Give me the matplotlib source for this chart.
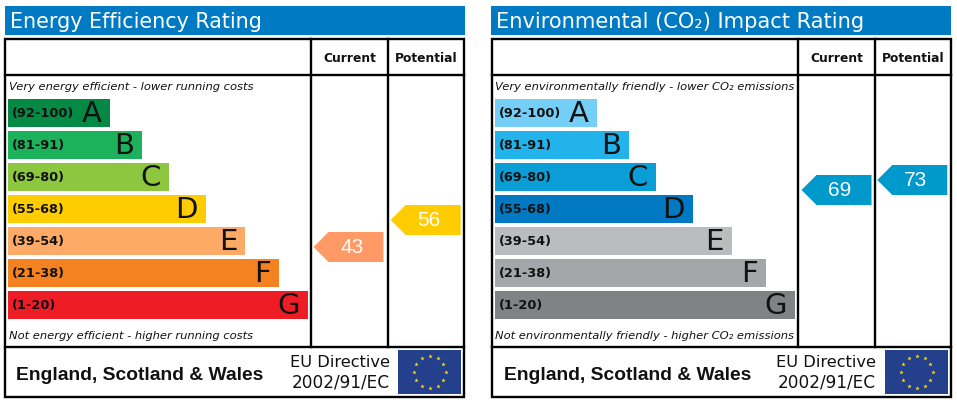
import numpy as np
import matplotlib
matplotlib.use("Agg")
import matplotlib.pyplot as plt
from matplotlib.patches import Rectangle, Polygon

# ---------- data ----------
band_ranges = ["(92-100)", "(81-91)", "(69-80)", "(55-68)", "(39-54)", "(21-38)", "(1-20)"]
band_letters = ["A", "B", "C", "D", "E", "F", "G"]
energy_band_lengths = [102, 134, 161, 198, 237, 271, 300]
co2_band_lengths = [102, 134, 161, 198, 237, 271, 300]
energy_colors = ["#058a45", "#1cb25b", "#8dc63f", "#ffcc00", "#fcaa65", "#f58220", "#ee1c25"]
co2_colors = ["#75cef5", "#22b3ea", "#0a9dd6", "#0079c2", "#bbbcbe", "#a5a6a9", "#818286"]

energy_title = "Energy Efficiency Rating"
co2_title = "Environmental (CO₂) Impact Rating"
energy_top = "Very energy efficient - lower running costs"
energy_bottom = "Not energy efficient - higher running costs"
co2_top = "Very environmentally friendly - lower CO₂ emissions"
co2_bottom = "Not environmentally friendly - higher CO₂ emissions"

energy_current, energy_potential = 43, 56
co2_current, co2_potential = 69, 73
energy_arrow_levels = [247, 220]
co2_arrow_levels = [190, 180]
energy_arrow_colors = ["#ff9966", "#ffcc00"]
co2_arrow_colors = ["#0099cc", "#0099cc"]

W, H = 957, 404
fig = plt.figure(figsize=(W / 100, H / 100), dpi=100, facecolor="white")
ax = fig.add_axes([0, 0, 1, 1])
ax.set_xlim(0, W)
ax.set_ylim(H, 0)
ax.axis("off")

SANS = "DejaVu Sans"
ARIAL = "Liberation Sans"


def arrow(x_right, yc, color, value):
    w, h, tip = 70, 30, 15
    pts = [(x_right, yc - h / 2), (x_right - w + tip, yc - h / 2), (x_right - w, yc),
           (x_right - w + tip, yc + h / 2), (x_right, yc + h / 2)]
    ax.add_patch(Polygon(pts, closed=True, fc=color, ec="none", zorder=3))
    ax.text(x_right - 31.5, yc + 0.5, str(value), color="white", family=ARIAL, fontsize=15,
            ha="center", va="center", zorder=4)


def flag(x0, y0, w=63, h=44):
    ax.add_patch(Rectangle((x0, y0), w, h, fc="#243f8c", ec="none", zorder=3))
    theta = np.deg2rad(np.arange(0, 360, 30))
    ax.scatter(x0 + w / 2 + 16 * np.cos(theta), y0 + h / 2 + 16 * np.sin(theta), marker="*",
               s=11, c="#ffe000", linewidths=0, zorder=4)


def panel(x0, frame, title, title_size, top, bottom, lengths, colors, values, levels, arrow_colors,
          arrow_right, foot_x, flag_x):
    left, right, c1, c2 = frame
    ax.add_patch(Rectangle((x0, 6), 460, 29, fc="#007ac2", ec="none"))
    ax.text(x0 + 5, 21.5, title, color="white", family=SANS, fontsize=title_size, va="center", ha="left")

    lw = 1.7
    ax.add_patch(Rectangle((left, 39), right - left, 357.5, fc="none", ec="black", lw=lw, zorder=5))
    ax.plot([left, right], [75, 75], color="black", lw=lw, zorder=5)
    ax.plot([left, right], [346.7, 346.7], color="black", lw=lw, zorder=5)
    for cx in (c1, c2):
        ax.plot([cx, cx], [39, 346.7], color="black", lw=lw, zorder=5)

    ax.text((c1 + c2) / 2 + 0.5, 58.5, "Current", family=SANS, fontweight="bold", fontsize=8.8,
            ha="center", va="center", color="#111111")
    ax.text((c2 + right) / 2 + 0.3, 58.5, "Potential", family=SANS, fontweight="bold", fontsize=8.8,
            ha="center", va="center", color="#111111")

    ax.text(x0 + 4, 87, top, family=SANS, style="italic", fontsize=8.25, va="center", color="#111111")
    ax.text(x0 + 4, 336, bottom, family=SANS, style="italic", fontsize=8.25, va="center", color="#111111")

    bx = x0 + (3 if x0 < 100 else 4)
    y = 99 + 32 * np.arange(len(lengths)) + 14
    ax.barh(y, lengths, height=28, left=bx, color=colors, edgecolor="none", zorder=2)
    for yi, ln, rng, let in zip(y, lengths, band_ranges, band_letters):
        ax.text(bx + 4, yi + 0.5, rng, family=SANS, fontweight="bold", fontsize=9.3, va="center",
                color="#111111", zorder=3)
        ax.text(bx + ln - 8, yi + 1.5, let, family=SANS, fontsize=21, ha="right", va="center",
                color="#111111", zorder=3)

    arrow(arrow_right[0], levels[0], arrow_colors[0], values[0])
    arrow(arrow_right[1], levels[1], arrow_colors[1], values[1])

    ax.text(x0 + foot_x, 375, "England, Scotland & Wales", family=ARIAL, fontweight="bold", fontsize=13.9,
            va="center", ha="left", color="#111111")
    ax.text(x0 + 385, 362.5, "EU Directive", family=SANS, fontsize=11.7, ha="right", va="center", color="#111111")
    ax.text(x0 + 385, 382.5, "2002/91/EC", family=SANS, fontsize=12.2, ha="right", va="center", color="#111111")
    flag(flag_x, 350)


panel(5, (5, 464.3, 310.7, 388.2), energy_title, 14.9, energy_top, energy_bottom, energy_band_lengths,
      energy_colors, [energy_current, energy_potential], energy_arrow_levels, energy_arrow_colors,
      (383.5, 460.7), 10.5, 398)
panel(491, (491.6, 950.7, 798.3, 874.8), co2_title, 15.15, co2_top, co2_bottom, co2_band_lengths,
      co2_colors, [co2_current, co2_potential], co2_arrow_levels, co2_arrow_colors,
      (871.5, 947.3), 13, 885)

fig.savefig("out.png", dpi=100, facecolor="white")
